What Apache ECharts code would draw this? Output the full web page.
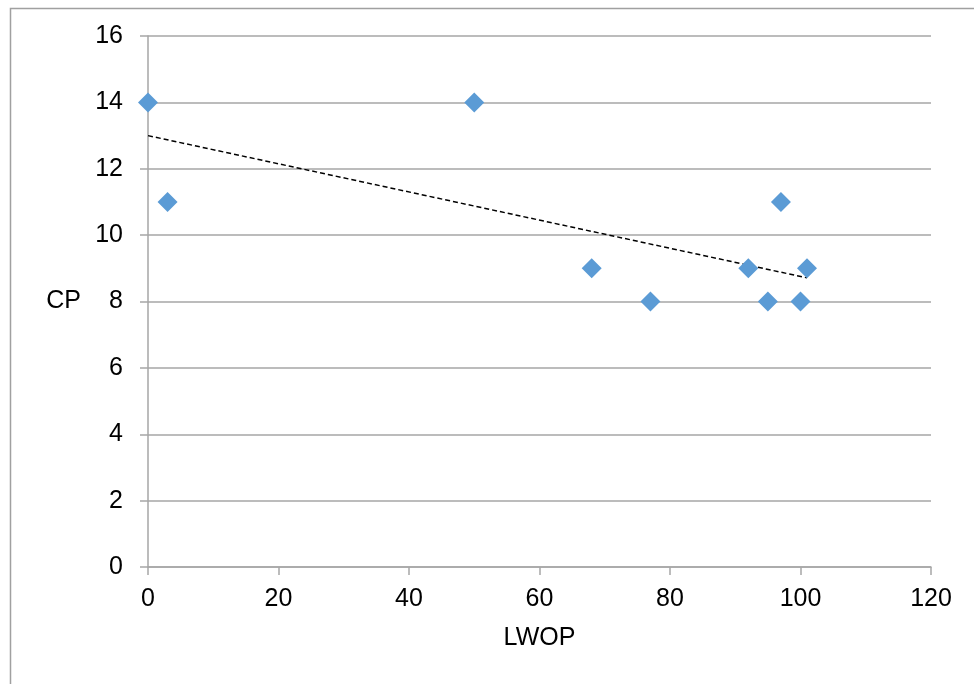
<!DOCTYPE html>
<html>
<head>
<meta charset="utf-8">
<script src="https://cdn.jsdelivr.net/npm/echarts@6/dist/echarts.min.js"></script>
<style>html,body{margin:0;padding:0;background:#fff}#c{width:974px;height:684px}</style>
</head>
<body>
<div id="c"></div>
<script>
var lwop = [0, 3, 50, 68, 77, 92, 95, 97, 100, 101];
var cp = [14, 11, 14, 9, 8, 9, 8, 11, 8, 9];
var xTicks = [0, 20, 40, 60, 80, 100, 120];
var yTicks = [0, 2, 4, 6, 8, 10, 12, 14, 16];

// least-squares trendline from the data
var n = lwop.length, mx = 0, my = 0;
for (var i = 0; i < n; i++) { mx += lwop[i]; my += cp[i]; }
mx /= n; my /= n;
var sxy = 0, sxx = 0;
for (i = 0; i < n; i++) { sxy += (lwop[i] - mx) * (cp[i] - my); sxx += (lwop[i] - mx) * (lwop[i] - mx); }
var slope = sxy / sxx, icpt = my - slope * mx;
var xmin = Math.min.apply(null, lwop), xmax = Math.max.apply(null, lwop);
var trend = [[xmin, icpt + slope * xmin], [xmax, icpt + slope * xmax]];

var pts = lwop.map(function (x, i) { return [x, cp[i]]; });
var font = '"Liberation Sans", Arial, sans-serif';
var fs = 25;

var chart = echarts.init(document.getElementById('c'), null, { renderer: 'canvas' });
chart.setOption({
  animation: false,
  backgroundColor: '#fff',
  graphic: [{
    type: 'rect', left: 8, top: 6, silent: true,
    shape: { x: 0, y: 0, width: 980, height: 700 },
    style: { fill: 'none', stroke: '#a0a0a0', lineWidth: 1.5 }
  }],
  grid: { left: 148, right: 43, top: 36, bottom: 117, containLabel: false },
  xAxis: {
    type: 'value', min: xTicks[0], max: xTicks[xTicks.length - 1], interval: 20,
    name: 'LWOP', nameLocation: 'middle', nameGap: 59,
    nameTextStyle: { fontSize: fs, color: '#000', fontFamily: font },
    axisLine: { show: true, onZero: false, lineStyle: { color: '#a6a6a6', width: 1.5 } },
    axisTick: { show: true, length: 8, lineStyle: { color: '#a6a6a6', width: 1.5 } },
    axisLabel: { fontSize: fs, color: '#000', fontFamily: font, margin: 20 },
    splitLine: { show: false }
  },
  yAxis: {
    type: 'value', min: yTicks[0], max: yTicks[yTicks.length - 1], interval: 2,
    name: 'CP', nameLocation: 'middle', nameGap: 67, nameRotate: 0,
    nameTextStyle: { fontSize: fs, color: '#000', fontFamily: font },
    axisLine: { show: true, onZero: false, lineStyle: { color: '#a6a6a6', width: 1.5 } },
    axisTick: { show: true, length: 8, lineStyle: { color: '#a6a6a6', width: 1.5 } },
    axisLabel: { fontSize: fs, color: '#000', fontFamily: font, margin: 25 },
    splitLine: { show: true, lineStyle: { color: '#a6a6a6', width: 1.5 } }
  },
  series: [{
    type: 'scatter', data: pts, symbol: 'diamond', symbolSize: [20, 20],
    itemStyle: { color: '#5b9bd5', opacity: 1 }, z: 3
  }, {
    type: 'line', data: trend, symbol: 'none', silent: true,
    lineStyle: { color: '#000', width: 1.5, type: [5, 3] }, z: 2
  }]
});
</script>
</body>
</html>
